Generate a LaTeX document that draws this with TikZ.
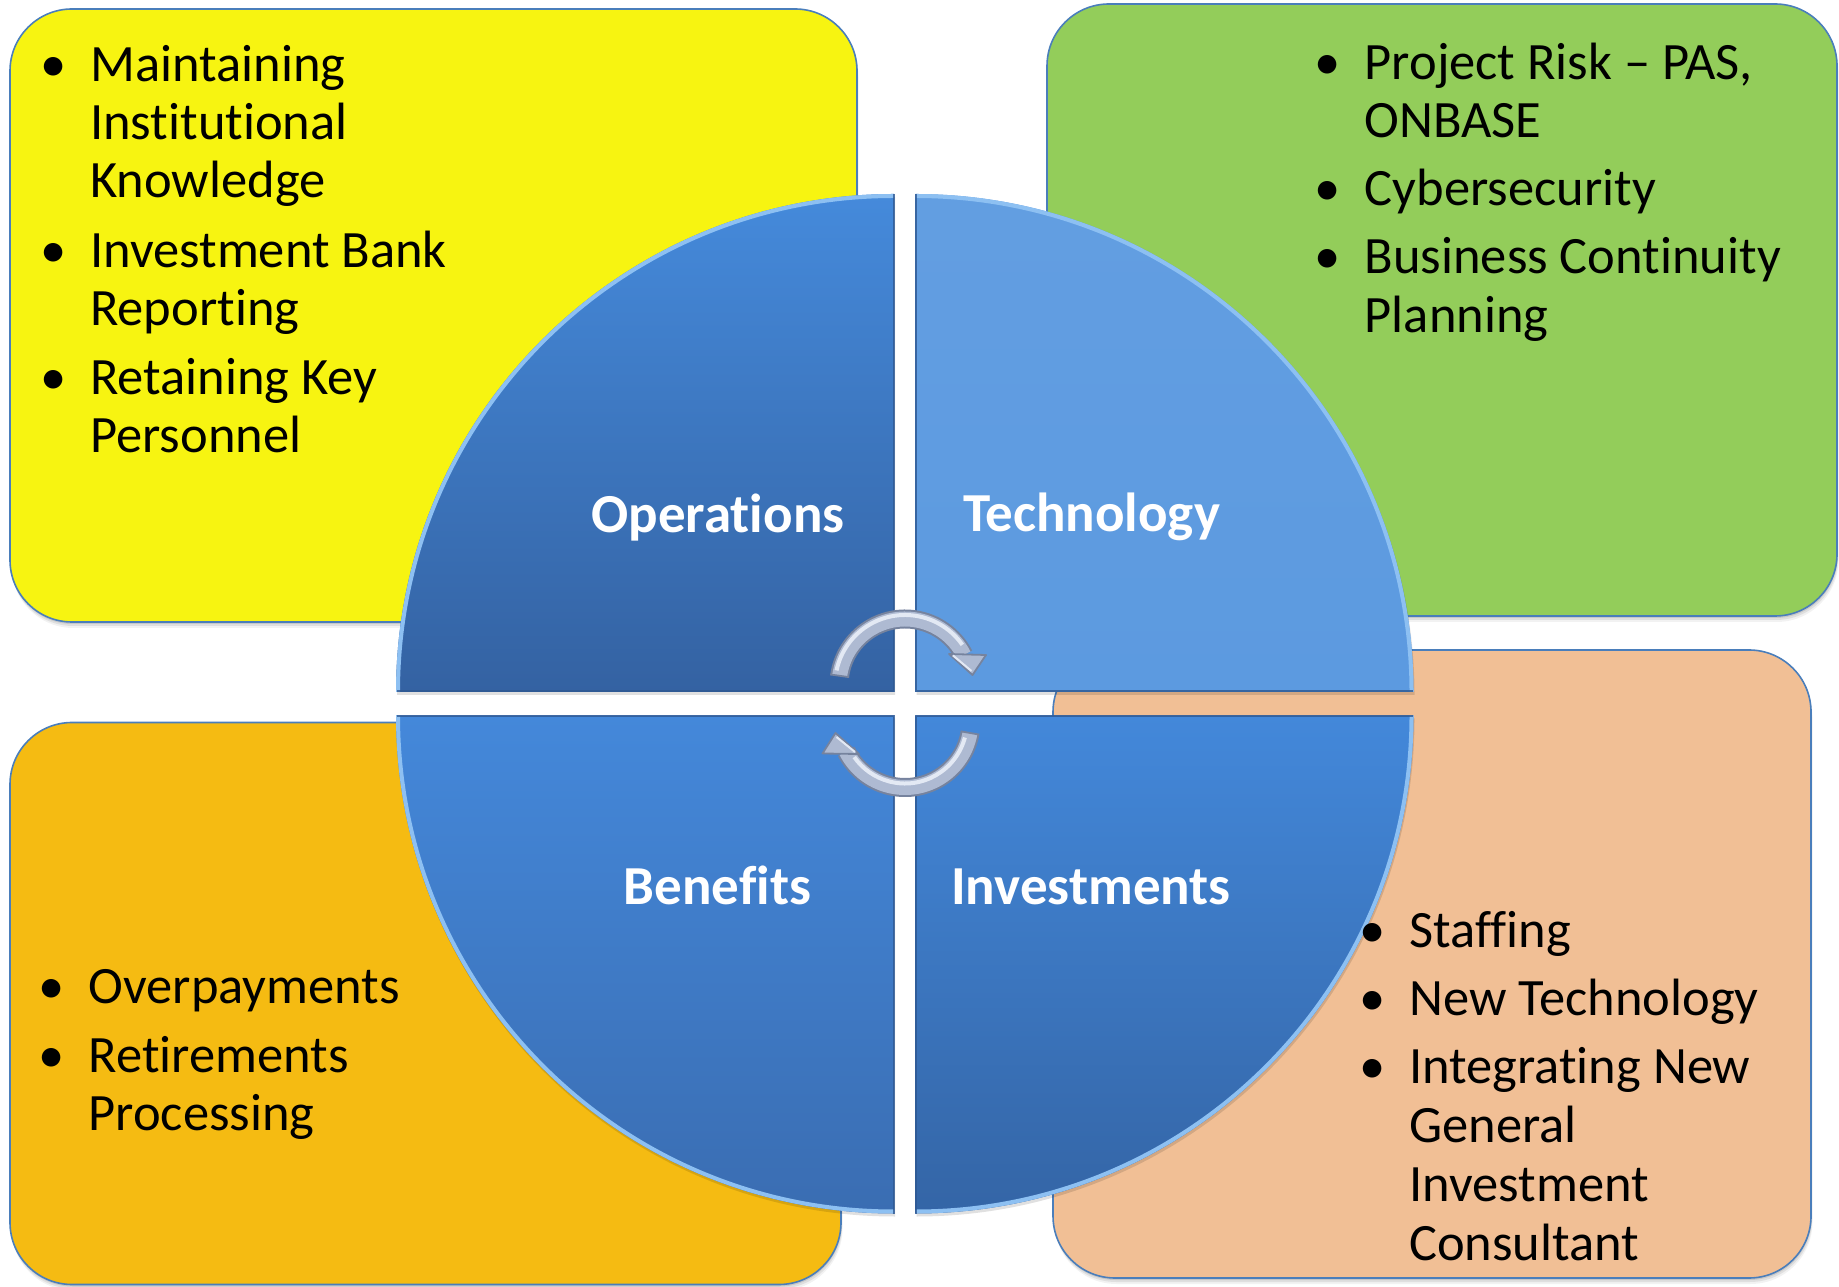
\documentclass[tikz,border=0pt]{standalone}
\usepackage{fontspec}
\setmainfont{Carlito}[Ligatures={NoCommon}]
\usetikzlibrary{calc}

% fills of the four corner panels
\definecolor{opsfill}{HTML}{F7F411}
\definecolor{techfill}{HTML}{93CD5A}
\definecolor{invfill}{HTML}{F1BF95}
\definecolor{benfill}{HTML}{F5BB12}
\definecolor{panelline}{HTML}{4A7EBB}
% quarter-disc blues
\definecolor{opsTop}{HTML}{458ADB}
\definecolor{opsBot}{HTML}{3462A2}
\definecolor{techBlue}{HTML}{5C9AE0}
\definecolor{benTop}{HTML}{4488DA}
\definecolor{benBot}{HTML}{3A6DB2}
\definecolor{invTop}{HTML}{4388DA}
\definecolor{invBot}{HTML}{3465A6}
\definecolor{rimLight}{HTML}{8DC0F2}
\definecolor{rimDark}{HTML}{2E5892}
% cycle arrows
\definecolor{arrEdge}{HTML}{76839E}
\definecolor{arrBody}{HTML}{AEBAD2}
\definecolor{arrShine}{HTML}{E3E9F4}

\newcommand{\bul}{\llap{\makebox[74pt][c]{•}}}

\tikzset{
  softshadow/.style={
    preaction={fill=black,fill opacity=0.05,transform canvas={xshift=1.5pt,yshift=-6pt}},
    preaction={fill=black,fill opacity=0.08,transform canvas={xshift=1pt,yshift=-4pt}},
    preaction={fill=black,fill opacity=0.10,transform canvas={xshift=0.5pt,yshift=-2pt}}},
  infobox/.style={draw=panelline, line width=1.6pt, rounded corners=62pt,
    inner sep=0pt, softshadow},
  % lists are placed by the baseline of their last line
  listtext/.style={anchor=base west, align=left, inner sep=0pt, text=black,
    font=\fontsize{52.5}{#1}\selectfont},
  listtext/.default=59,
  qlabel/.style={anchor=base, inner sep=0pt, text=white,
    font=\fontsize{55}{60}\selectfont\bfseries},
  rim/.style={draw=rimLight, line width=4pt},
  qedge/.style={draw=rimDark, line width=2pt, draw opacity=0.8},
  qshadow/.style={preaction={fill=black,fill opacity=0.12,transform canvas={xshift=1pt,yshift=-3pt}}},
  arrowedge/.style={draw=arrEdge, line width=19pt},
  arrowbody/.style={draw=arrBody, line width=15pt},
  arrowshine/.style={draw=arrShine, line width=4pt},
  arrowhead/.style={fill=arrBody, draw=arrEdge, line width=1.8pt, line join=round},
}

\begin{document}
\begin{tikzpicture}[x=1pt,y=1pt]
\useasboundingbox (0,0) rectangle (1839,1286);

% ---- corner panels ----
\node[infobox, fill=opsfill, minimum width=847pt, minimum height=613pt] (opsbox) at (433.5,970.5) {};
\node[infobox, fill=techfill, minimum width=790pt, minimum height=612pt] (techbox) at (1442,976) {};
\node[infobox, fill=invfill, minimum width=758pt, minimum height=628pt] (invbox) at (1432,322) {};
\node[infobox, fill=benfill, minimum width=831pt, minimum height=562pt] (benbox) at (425.5,282.5) {};

% ---- quarter discs ----
\coordinate (opsc) at (894,594);
\coordinate (techc) at (915.5,594);
\coordinate (benc) at (894,570.5);
\coordinate (invc) at (915.5,570.5);

\shade[qshadow, top color=opsTop, bottom color=opsBot]
  (opsc) -- ++(-498,0) arc[start angle=180,end angle=90,radius=498] -- cycle;
\shade[qshadow, top color=techBlue!96!white, bottom color=techBlue]
  (techc) -- ++(0,498) arc[start angle=90,end angle=0,radius=498] -- cycle;
\shade[qshadow, top color=benTop, bottom color=benBot]
  (benc) -- ++(-498,0) arc[start angle=180,end angle=270,radius=498] -- cycle;
\shade[qshadow, top color=invTop, bottom color=invBot]
  (invc) -- ++(0,-498) arc[start angle=270,end angle=360,radius=498] -- cycle;

% bevelled rims
\draw[rim] (opsc) ++(-496,0) arc[start angle=180,end angle=90,radius=496];
\draw[rim] (techc) ++(0,496) arc[start angle=90,end angle=0,radius=496];
\draw[rim] (benc) ++(-496,0) arc[start angle=180,end angle=270,radius=496];
\draw[rim] (invc) ++(0,-496) arc[start angle=270,end angle=360,radius=496];
\draw[qedge] (opsc) ++(-497,1) -- ($(opsc)+(0,1)$) -- ++(0,497);
\draw[qedge] (techc) ++(497,1) -- ($(techc)+(0,1)$) -- ++(0,497);
\draw[qedge] (benc) ++(-497,-1) -- ($(benc)+(0,-1)$) -- ++(0,-497);
\draw[qedge] (invc) ++(497,-1) -- ($(invc)+(0,-1)$) -- ++(0,-497);

% ---- cycle arrows ----
\coordinate (uparc) at (905,601);
\coordinate (lowarc) at (905,564.5);
\coordinate (uptip) at (972.5,611);
\coordinate (lowtip) at (835.5,553);

\foreach \st in {arrowedge,arrowbody} {
  \draw[\st] (uparc) ++(172:66) arc[start angle=172,end angle=27,radius=66];
  \draw[\st] (lowarc) ++(-10:66) arc[start angle=-10,end angle=-153,radius=66];
}
\draw[arrowshine] (uparc) ++(168:70) arc[start angle=168,end angle=35,radius=70];
\draw[arrowshine] (lowarc) ++(-15:62) arc[start angle=-15,end angle=-145,radius=62];
\draw[arrowedge, line width=1.8pt] (uparc) ++(172:75.5) -- ++(172:-19);
\draw[arrowedge, line width=1.8pt] (lowarc) ++(-10:75.5) -- ++(-10:-19);

\filldraw[arrowhead] (uptip) -- (949,632) -- (986,631) -- cycle;
\draw[arrShine, line width=2pt] (953,630.5) -- ($(uptip)+(-1,4)$);
\filldraw[arrowhead] (lowtip) -- (822.5,532.5) -- (859,532) -- cycle;
\draw[arrShine, line width=2pt] (855,534) -- ($(lowtip)+(1,-4)$);

% ---- quadrant titles ----
\node[qlabel] (opslabel) at (718,753) {Operations};
\node[qlabel] (techlabel) at (1091.5,754) {Technology};
\node[qlabel] (benlabel) at (717.5,381) {Benefits};
\node[qlabel] (invlabel) at (1091,381) {Investments};

% ---- bullet lists ----
\node[listtext=58] (opslist) at (90,833) {%
  \bul Maintaining\\ Institutional\\ Knowledge\\[11.5pt]
  \bul Investment Bank\\ Reporting\\[11.5pt]
  \bul Retaining Key\\ Personnel};
\node[listtext=58.5] (techlist) at (1364.5,953.5) {%
  \bul Project Risk – PAS,\\ ONBASE\\[9.5pt]
  \bul Cybersecurity\\[9.5pt]
  \bul Business Continuity\\ Planning};
\node[listtext=59] (invlist) at (1409,26) {%
  \bul Staffing\\[9pt]
  \bul New Technology\\[9pt]
  \bul Integrating New\\ General\\ Investment\\ Consultant};
\node[listtext=58] (benlist) at (88.5,156) {%
  \bul Overpayments\\[11pt]
  \bul Retirements\\ Processing};
\end{tikzpicture}
\end{document}
